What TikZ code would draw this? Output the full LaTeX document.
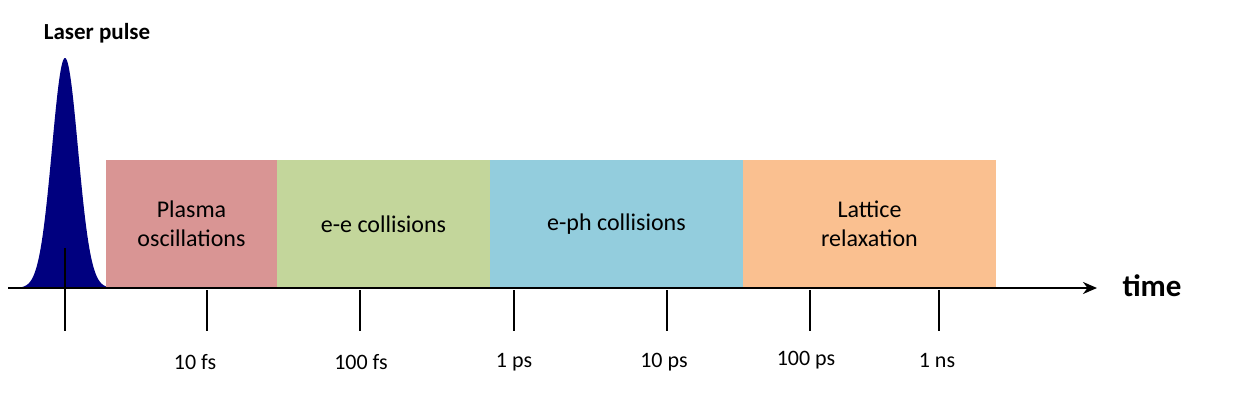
\documentclass[tikz,border=0pt]{standalone}
\usepackage{fontspec}
\setmainfont{Carlito}
\usetikzlibrary{arrows.meta}
\definecolor{pinkb}{HTML}{D99594}
\definecolor{greenb}{HTML}{C3D69B}
\definecolor{blueb}{HTML}{93CDDD}
\definecolor{orangeb}{HTML}{FAC090}
\definecolor{navy}{HTML}{00007F}
\begin{document}
\begin{tikzpicture}[x=1pt,y=-1pt,
  phase/.style={draw=none,minimum height=128pt,inner sep=0pt,align=center,font=\fontsize{24}{29}\selectfont},
  lab/.style={font=\fontsize{22}{26}\selectfont},
  tick/.style={line width=2pt}]
\useasboundingbox (0,0) rectangle (1251,404);
\fill[navy] plot[domain=20:110,samples=120,smooth] (\x,{288-230*exp(-((\x-65)^2)/(2*13^2))}) -- cycle;
\node[phase,fill=pinkb,minimum width=171pt] (p1) at (191.5,224) {Plasma\\oscillations};
\node[phase,fill=greenb,minimum width=213pt] (p2) at (383.5,224) {e-e collisions};
\node[phase,fill=blueb,minimum width=253pt] (p3) at (616.5,224) {e-ph collisions};
\node[phase,fill=orangeb,minimum width=253pt] (p4) at (869.5,224) {Lattice\\relaxation};
\coordinate (a0) at (8,288); \coordinate (a1) at (1097,288);
\draw[line width=2.5pt,-{Stealth[length=14pt,width=12pt]}] (a0) -- (a1);
\node[font=\bfseries\fontsize{31}{36}\selectfont] (time) at (1152,286) {time};
\node[font=\bfseries\fontsize{23}{27}\selectfont] (lp) at (97,33) {Laser pulse};
\draw[tick] (65,248) -- (65,331);
\foreach \x in {207,360,514,667,810,939}{
  \draw[tick] (\x,290) -- (\x,331);
}
\node[lab] (t1) at (195,362) {10 fs};
\node[lab] (t2) at (361,362) {100 fs};
\node[lab] (t3) at (514,362) {1 ps};
\node[lab] (t4) at (664,362) {10 ps};
\node[lab] (t5) at (806,360) {100 ps};
\node[lab] (t6) at (937,360) {1 ns};
\end{tikzpicture}
\end{document}
